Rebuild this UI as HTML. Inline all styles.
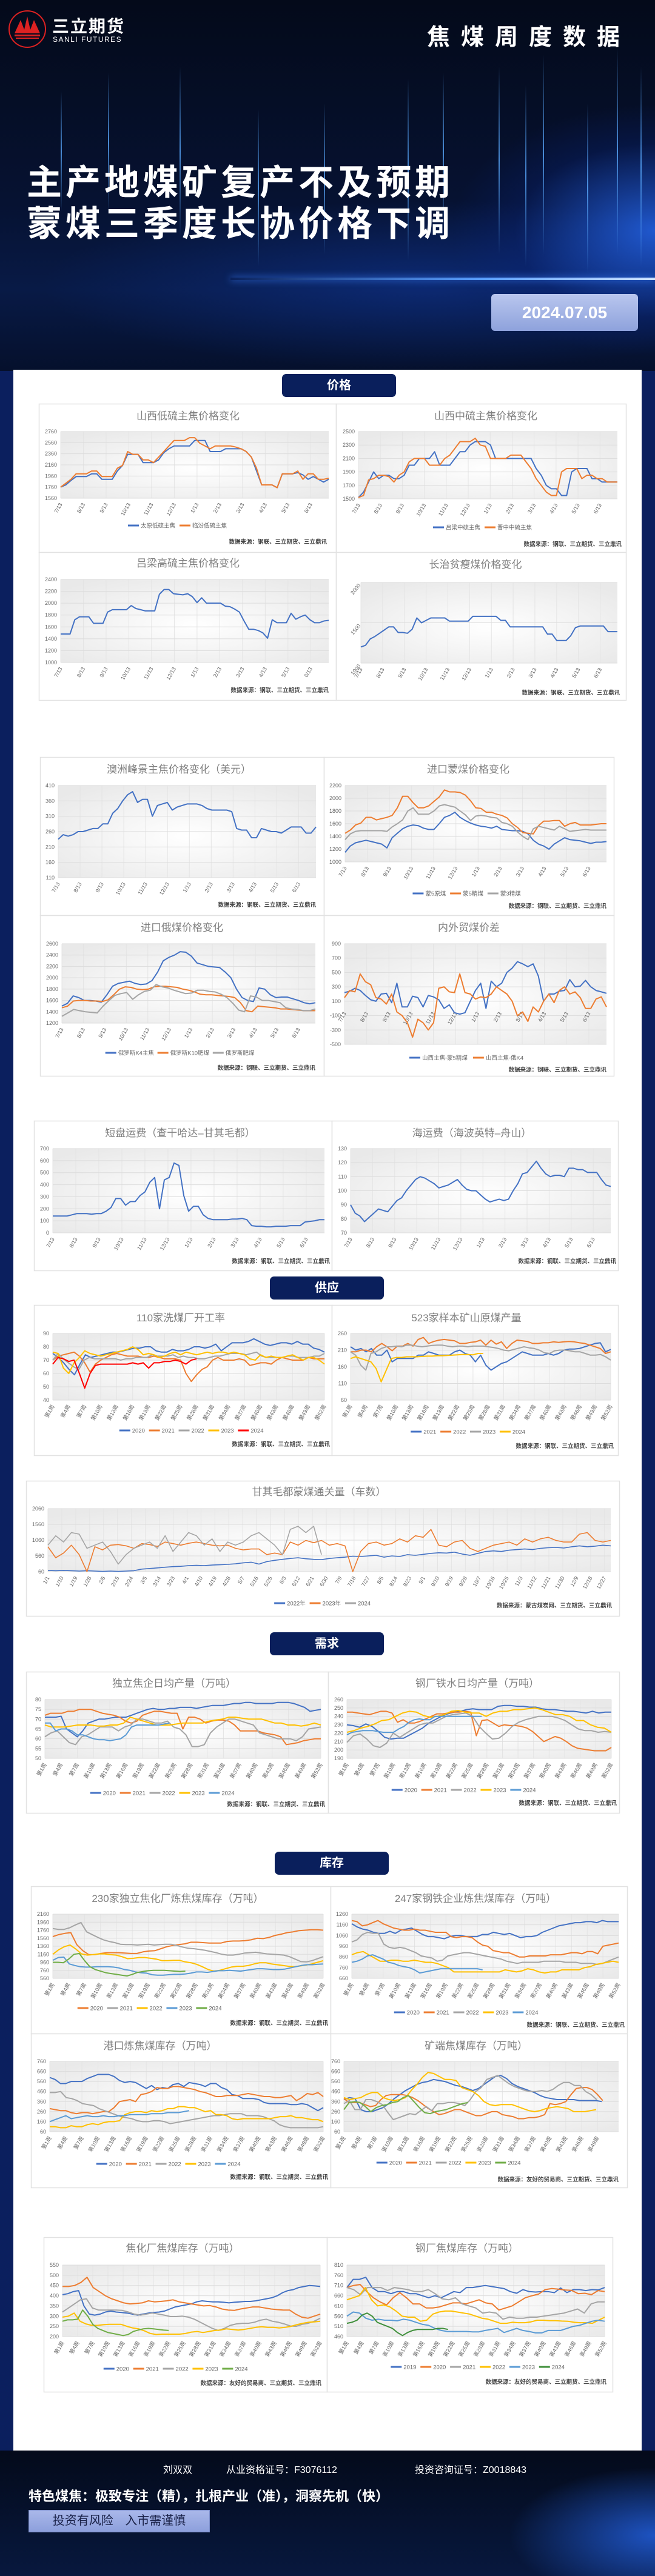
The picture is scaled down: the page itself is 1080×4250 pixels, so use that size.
<!DOCTYPE html>
<html lang="zh">
<head>
<meta charset="utf-8">
<title>焦煤周度数据 2024.07.05</title>
<style>
html,body{margin:0;padding:0}
body{width:1080px;height:4250px;position:relative;overflow:hidden;background:#0b1f5e;font-family:"Liberation Sans","Noto Sans CJK SC",sans-serif}
#hero{position:absolute;left:0;top:0;width:1080px;height:612px;overflow:hidden;
 background:radial-gradient(ellipse 420px 260px at 1080px 380px,rgba(40,110,255,.75),rgba(10,40,140,.25) 55%,rgba(0,0,0,0) 80%),
 radial-gradient(ellipse 900px 200px at 700px 470px,rgba(20,70,200,.35),rgba(0,0,0,0) 70%),
 linear-gradient(180deg,#040a1a 0%,#061232 55%,#081a46 78%,#05102c 100%)}
.beam{position:absolute;width:2px;background:linear-gradient(180deg,rgba(60,140,255,0),rgba(90,170,255,.8),rgba(60,140,255,0))}
#horizon{position:absolute;left:380px;top:458px;width:700px;height:4px;background:linear-gradient(90deg,rgba(60,140,255,0),#5aa0ff 60%,#cfe3ff);box-shadow:0 0 12px #3b82ff}
#logo-circle{position:absolute;left:14px;top:17px;width:58px;height:58px;border:2px solid #d22;border-radius:50%}
#logo-cn{position:absolute;left:86px;top:22px;color:#fff;font-size:28px;font-weight:bold;letter-spacing:2px}
#logo-en{position:absolute;left:87px;top:58px;color:#fff;font-size:12px;letter-spacing:1.5px}
#doc-type{position:absolute;left:704px;top:30px;color:#fff;font-size:38px;font-weight:bold;letter-spacing:18px}
.headline{position:absolute;left:44px;color:#fff;font-size:58px;font-weight:bold;letter-spacing:6px;line-height:60px;white-space:nowrap}
#date-badge{position:absolute;left:810px;top:485px;width:242px;height:61px;border-radius:6px;background:linear-gradient(180deg,#b9c6ee,#8ea2dc);color:#fff;font-size:28px;font-weight:bold;text-align:center;line-height:61px}
#panel{position:absolute;left:22px;top:610px;width:1036px;height:3433px;background:#fff}
.tab{position:absolute;width:188px;height:38px;background:#0a1f5c;border-radius:7px;color:#fff;font-size:20px;font-weight:bold;text-align:center;line-height:38px}
#footer{position:absolute;left:0;top:4043px;width:1080px;height:207px;overflow:hidden;
 background:radial-gradient(ellipse 300px 140px at 1080px 140px,rgba(40,110,255,.7),rgba(0,0,0,0) 80%),linear-gradient(180deg,#040a1a,#061434 70%,#08183e)}
.ftxt{position:absolute;color:#fff;font-size:16px;white-space:nowrap}
#slogan{position:absolute;left:47px;top:58px;color:#fff;font-size:22px;font-weight:bold;white-space:nowrap}
#risk{position:absolute;left:47px;top:98px;width:297px;height:35px;background:linear-gradient(180deg,#aab8ea,#8c9fdc);border:1px solid #7a8cc8;color:#1a2248;font-size:20px;line-height:35px;text-align:center;word-spacing:14px}
#charts{position:absolute;left:0;top:0}
</style>
</head>
<body>
<div id="hero">
  <div class="beam" style="left:100px;top:150px;height:200px"></div>
  <div class="beam" style="left:178px;top:120px;height:230px"></div>
  <div class="beam" style="left:296px;top:110px;height:280px"></div>
  <div class="beam" style="left:425px;top:180px;height:260px"></div>
  <div class="beam" style="left:534px;top:170px;height:250px"></div>
  <div class="beam" style="left:672px;top:130px;height:300px"></div>
  <div class="beam" style="left:730px;top:120px;height:260px"></div>
  <div class="beam" style="left:822px;top:110px;height:310px"></div>
  <div class="beam" style="left:866px;top:140px;height:300px"></div>
  <div class="beam" style="left:895px;top:90px;height:330px"></div>
  <div class="beam" style="left:968px;top:170px;height:280px"></div>
  <div class="beam" style="left:1017px;top:80px;height:340px"></div>
  <div class="beam" style="left:1056px;top:110px;height:330px"></div>
  <div id="horizon"></div>
  <div id="logo-circle">
    <svg width="58" height="58" viewBox="0 0 58 58"><polygon points="8,36 18,14 24,30 29,8 34,30 40,14 50,36" fill="#d22"/><rect x="8" y="38" width="42" height="3" fill="#d22"/><rect x="10" y="43" width="38" height="2" fill="#d22"/></svg>
  </div>
  <div id="logo-cn">三立期货</div>
  <div id="logo-en">SANLI FUTURES</div>
  <div id="doc-type">焦煤周度数据</div>
  <div class="headline" style="top:272px">主产地煤矿复产不及预期</div>
  <div class="headline" style="top:340px">蒙煤三季度长协价格下调</div>
  <div id="date-badge">2024.07.05</div>
</div>
<div id="panel"></div>
<div class="tab" style="left:465px;top:617px">价格</div>
<div class="tab" style="left:445px;top:2106px">供应</div>
<div class="tab" style="left:445px;top:2693px">需求</div>
<div class="tab" style="left:453px;top:3055px">库存</div>
<svg id="charts" width="1080" height="4250" xmlns="http://www.w3.org/2000/svg">
<defs>
<radialGradient id="pbg" cx="50%" cy="55%" r="65%"><stop offset="0" stop-color="#ffffff"/><stop offset="1" stop-color="#e9e9e9"/></radialGradient>
</defs>
</svg>
<div id="footer">
  <div class="ftxt" style="left:269px;top:18px">刘双双</div>
  <div class="ftxt" style="left:373px;top:18px">从业资格证号：F3076112</div>
  <div class="ftxt" style="left:684px;top:18px">投资咨询证号：Z0018843</div>
  <div id="slogan">特色煤焦：极致专注（精），扎根产业（准），洞察先机（快）</div>
  <div id="risk">投资有风险 入市需谨慎</div>
</div>
<script>
// ---------- axis tick labels ----------
const monthTicks = ['7/13','8/13','9/13','10/13','11/13','12/13','1/13','2/13','3/13','4/13','5/13','6/13'];
const weekTicks = ['第1周','第4周','第7周','第10周','第13周','第16周','第19周','第22周','第25周','第28周','第31周','第34周','第37周','第40周','第43周','第46周','第49周','第52周'];
const weekTicks49 = ['第1周','第4周','第7周','第10周','第13周','第16周','第19周','第22周','第25周','第28周','第31周','第34周','第37周','第40周','第43周','第46周','第49周'];
const dayTicks = ['1/1','1/10','1/19','1/28','2/6','2/15','2/24','3/5','3/14','3/23','4/1','4/10','4/19','4/28','5/7','5/16','5/25','6/3','6/12','6/21','6/30','7/9','7/18','7/27','8/5','8/14','8/23','9/1','9/10','9/19','9/28','10/7','10/16','10/25','11/3','11/12','11/21','11/30','12/9','12/18','12/27'];

// ---------- series values ----------
const c1_taiyuan = [1760,1800,1880,1950,1950,1950,2000,2000,1900,1900,1900,2050,2150,2350,2350,2350,2200,2200,2200,2250,2380,2450,2500,2500,2500,2500,2600,2600,2600,2400,2400,2400,2450,2450,2450,2450,2400,2300,2050,1800,1800,1800,1750,2000,2000,2000,2020,1980,1900,1950,1900,1850,1900];
const c1_linfen = [1760,1830,1900,2000,2000,2000,2050,2050,1950,1950,1950,2100,2150,2400,2350,2350,2250,2250,2200,2300,2400,2500,2600,2600,2600,2650,2650,2550,2500,2450,2500,2500,2500,2500,2480,2450,2400,2300,2100,1800,1800,1800,1750,2000,2000,2000,2050,1900,2000,2000,1900,1900,1920];
const c2_lvliang = [1520,1600,1750,1900,1800,1850,1850,1800,1800,1850,2000,2000,2100,2100,2100,2200,2000,2000,2000,2100,2200,2200,2300,2350,2350,2350,2300,2100,2100,2100,2100,2100,2100,2100,2100,1950,1850,1700,1650,1650,1550,1550,1900,1950,1950,1950,1800,1800,1750,1750,1750,1750];
const c2_jinzhong = [1520,1550,1780,1800,1850,1850,1830,1750,1850,1900,2050,2100,2100,2100,2000,2000,2000,2100,2150,2250,2350,2350,2350,2400,2300,2280,2100,2100,2100,2100,2150,2150,2150,2050,1950,1800,1700,1600,1550,1550,1900,1950,1950,1950,1800,1850,1850,1800,1800,1750,1750,1750];
const c3_gaoliu = [1480,1480,1480,1720,1770,1770,1770,1660,1660,1660,1850,1890,1890,1890,1890,1960,1910,1890,1870,1870,1870,2150,2230,2230,2160,2150,2140,2160,2110,2010,2090,2000,2000,2000,2000,1950,1940,1900,1850,1700,1560,1560,1540,1500,1410,1720,1670,1670,1670,1830,1730,1770,1800,1720,1670,1670,1700,1710];
const c4_changzhi = [1200,1220,1300,1330,1370,1410,1450,1450,1380,1380,1370,1420,1560,1500,1530,1560,1560,1560,1560,1520,1520,1520,1520,1520,1580,1580,1580,1580,1580,1580,1530,1530,1450,1450,1450,1450,1450,1450,1450,1450,1360,1360,1280,1280,1280,1340,1440,1460,1460,1460,1460,1460,1460,1390,1390,1390];
const c5_peak = [235,250,245,250,260,260,265,270,270,285,285,320,335,360,380,390,355,365,365,310,345,350,355,330,340,345,350,350,350,345,335,330,330,330,330,325,270,265,265,240,240,270,265,260,260,255,265,275,275,275,255,255,275];
const c6_m5raw = [1150,1250,1300,1320,1340,1320,1300,1280,1220,1380,1450,1520,1560,1580,1570,1530,1510,1510,1600,1700,1730,1780,1700,1650,1610,1580,1560,1550,1530,1560,1510,1500,1490,1490,1480,1440,1340,1280,1250,1200,1280,1330,1380,1350,1340,1330,1310,1290,1310,1310,1320];
const c6_m5clean = [1450,1500,1580,1610,1700,1700,1660,1680,1700,1730,1850,2030,2030,1930,1850,1850,1880,1950,2020,2130,2100,2100,2090,2050,1960,1850,1840,1780,1780,1750,1730,1690,1600,1540,1460,1450,1440,1570,1640,1640,1650,1650,1560,1600,1620,1580,1580,1580,1590,1600,1600];
const c6_m3clean = [1350,1440,1480,1490,1490,1490,1490,1490,1480,1550,1600,1660,1800,1850,1750,1750,1750,1800,1880,1900,1880,1860,1800,1740,1650,1720,1730,1720,1700,1690,1620,1600,1560,1470,1400,1350,1520,1560,1540,1520,1500,1560,1520,1480,1490,1500,1510,1500,1500,1500,1500];
const c7_k4 = [1500,1550,1680,1650,1600,1600,1590,1570,1700,1850,1900,1920,1940,1900,1880,1890,1950,2100,2300,2360,2400,2460,2450,2380,2260,2230,2200,2190,2180,2100,2000,1800,1650,1600,1580,1820,1800,1700,1650,1660,1660,1630,1600,1560,1540,1560];
const c7_k10 = [1470,1500,1590,1600,1600,1590,1590,1580,1610,1700,1800,1840,1830,1800,1790,1800,1840,1850,1850,1840,1830,1800,1780,1750,1710,1700,1700,1690,1680,1670,1650,1560,1420,1400,1500,1490,1480,1470,1450,1450,1440,1430,1420,1420,1420];
const c7_fat = [1320,1380,1440,1420,1400,1390,1380,1500,1600,1690,1720,1740,1620,1700,1760,1780,1880,1840,1820,1780,1750,1720,1730,1780,1780,1760,1750,1710,1650,1550,1430,1400,1680,1660,1600,1600,1580,1560,1470,1450,1440,1420,1420,1450];
const c8_spreadA = [220,240,280,250,180,120,100,200,210,80,350,20,20,170,150,20,180,160,120,0,50,-60,-80,-60,100,250,350,0,380,300,350,500,560,650,620,580,620,450,100,200,200,240,250,400,300,310,390,300,250,230,210];
const c8_spreadB = [150,250,230,480,370,330,150,130,60,200,-50,-100,-200,-400,-150,-200,-300,-200,280,300,230,220,480,220,200,130,160,150,200,300,250,200,100,-100,-50,-180,20,-50,100,200,80,250,300,200,230,150,0,0,130,160,20];
const c9_short = [140,140,140,140,150,160,160,160,155,160,160,180,210,285,285,230,260,260,310,340,420,460,200,440,460,580,560,310,180,220,220,150,120,110,110,110,110,115,115,120,110,60,55,55,50,50,55,55,55,60,60,60,90,95,100,110,110];
const c10_sea = [90,84,82,78,81,84,87,86,85,89,93,95,100,104,108,110,109,107,105,102,103,104,106,108,104,101,100,100,97,94,92,93,94,93,94,100,105,112,113,117,121,116,112,110,111,111,110,116,116,115,115,113,113,113,108,104,103];
const c11_2020 = [75,72,68,63,59,67,74,72,73,74,75,76,76,77,78,79,79,80,80,77,76,76,78,77,77,78,80,80,79,80,82,77,80,83,83,83,84,86,84,82,81,82,83,83,82,84,82,82,79,78,76];
const c11_2021 = [70,73,74,75,76,73,68,61,67,70,72,74,75,74,73,73,73,72,72,73,72,71,71,71,70,60,54,59,63,65,70,72,70,70,70,71,70,66,67,68,68,67,70,72,71,70,70,70,72,71,71,71];
const c11_2022 = [70,75,71,68,65,63,70,72,71,71,71,71,71,70,71,71,72,72,72,74,73,73,73,74,72,73,72,72,71,71,72,73,73,74,75,75,75,74,75,76,73,72,72,72,72,73,73,72,72,72,73,73,75];
const c11_2023 = [76,75,64,60,68,72,77,75,74,73,74,75,76,77,78,80,78,74,75,74,72,73,75,76,74,76,75,74,75,76,75,76,76,75,76,75,74,71,70,74,72,73,72,72,73,74,72,70,72,72,70,67];
const c11_2024 = [67,72,71,69,70,60,49,60,66,67,67,67,67,67,67,68,67,68,64,68,68,69,69,70,69,67,70,71];
const c12_2021 = [220,210,215,205,215,195,195,210,175,185,185,185,185,195,195,205,200,195,195,195,205,210,200,195,175,195,165,150,160,170,175,185,195,205,200,195,195,195,200,195,200,210,213,213,215,220,225,230,232,205,212];
const c12_2022 = [205,205,210,210,205,220,230,220,208,222,222,230,222,242,248,230,236,240,242,240,238,230,230,233,235,240,225,240,228,235,215,230,240,238,236,230,230,232,232,235,233,235,236,235,232,230,225,220,215,200,205];
const c12_2023 = [205,195,165,150,200,205,215,220,220,222,220,225,225,222,220,222,224,225,225,222,220,222,222,220,222,222,222,220,218,215,210,208,212,216,220,217,215,210,202,200,208,210,210,208,205,205,200,195,195,197,190,180];
const c12_2024 = [185,190,185,180,175,155,115,150,185,188,188,190,190,190,191,192,192,193,193,194,195,196,197,197,196,200,200];
const c13_2022 = [100,90,100,90,80,90,80,70,80,70,80,90,140,160,180,200,220,230,250,260,250,270,280,290,310,340,360,300,380,420,450,480,500,470,450,440,480,500,520,550,540,560,580,520,560,540,600,580,610,640,660,650,680,620,580,640,700,720,700,740,760,780,760,800,820,830,810,850,880,850,870,900,880];
const c13_2023 = [850,500,650,900,600,60,850,750,900,920,880,800,950,920,860,1000,950,900,960,1000,950,900,880,900,800,750,780,780,600,650,600,1000,900,1050,980,1050,900,950,880,60,700,950,1000,900,950,1100,1000,1200,1150,1400,900,850,1000,1050,800,700,800,900,950,1000,900,1100,1000,1100,1150,1050,1000,1000,1250,1300,1050,1000,1050];
const c13_2024 = [900,1200,1000,1300,1250,800,900,1000,700,300,600,800,900,1000,800,1200,700,1000,1300,1200,900,1100,700,1000,900,1000,1200,1300,1100,900,600,1400,1500,1300,1500,600];
const c14_2020 = [71,71,71,71.5,65,63,61,64,68,69,70,70,70.5,71,71,71,72,73,74,75,75.5,75,75,75.5,75.5,76,76,76,75.5,76,76.5,77,77,77,77.5,78,78,78.5,78.5,78,78,78,78,78.5,78.5,78.5,78,77,76,74,74.5,75];
const c14_2021 = [72,73,73,73,74,74,75,75,75,74,73,72.5,72,71,69,68,69,72,73,74,74,73.5,73,73,65,71,71,70,68,69,69.5,69.5,69,67,64,64,64,64,63,62.5,62,61,57,57.5,58,59,59.5,60,60];
const c14_2022 = [61,63,64,61,58,57,61,62,64,66,66,66,64,66,67,70,70,69,68,68,69,66,65,62,56,56,57,63,66,68,70,70,69,68,67,63,62,61,60,60,60,59,61,65,65.5,66];
const c14_2023 = [67,66,66,66,66.5,67,67,67,66.5,66.5,67,67,68,71,70,69,68,67,67,67,67.5,68,68,68,68,69,69.5,70,71,71,70.5,70,70,70,69,68,68,67,67,66.5,67,68,67];
const c14_2024 = [68,68,64,65,65,64,62,62,61,60,59.5,59.5,59,59.5,60,62,66,67,67,67,67,67,67.5,68];
const c15_2020 = [230,229,227,231,228,222,215,213,214,214,218,222,226,232,236,240,243,245,246,248,249,248,248,248,252,253,253,252,252,251,251,249,248,248,247,246,246,245,244,246,244,245,245];
const c15_2021 = [245,245,244,243,242,244,246,246,244,233,236,232,232,234,237,240,243,243,244,245,245,246,245,217,235,236,232,228,230,229,229,228,226,222,216,210,213,216,214,210,205,202,201,200,199,199,199,203];
const c15_2022 = [209,217,219,213,205,203,208,220,215,220,225,230,232,232,236,240,242,243,244,240,228,220,213,214,220,228,233,236,238,240,240,240,238,235,230,225,223,223,221,222,221];
const c15_2023 = [221,223,226,228,231,235,236,240,244,246,245,241,239,240,242,246,247,245,244,244,240,244,246,246,248,248,249,250,248,245,242,242,240,235,235,230,227,226,221];
const c15_2024 = [218,221,222,223,223,223,222,221,221,221,225,228,233,236,237,236,236,240,240,240,240,240,240,240,240,240,240];
const c16_2020 = [1600,1650,1680,1700,1400,1250,1150,1150,1180,1200,1200,1200,1190,1180,1180,1220,1240,1250,1300,1350,1380,1400,1420,1460,1460,1450,1440,1440,1440,1480,1490,1490,1500,1520,1560,1550,1580,1630,1660,1700,1720,1750,1760,1770,1770,1760];
const c16_2021 = [1800,1780,1780,1820,1890,1950,1720,1650,1580,1520,1480,1450,1410,1400,1400,1390,1400,1410,1390,1400,1410,1410,1380,1340,1310,1300,1280,1260,1230,1200,1160,1140,1140,1160,1190,1200,1210,1190,1170,1160,1150,1140,1100,1040,980,970,1000,1050,1100];
const c16_2022 = [1160,1270,1350,1390,1290,1170,1140,1150,1170,1170,1150,1140,1100,1050,1060,1080,1080,1060,1040,1000,1000,1010,1010,970,950,910,850,780,740,760,800,840,860,860,880,920,950,950,920,900,880,860,850,870,890,920,960,1000];
const c16_2023 = [1010,1080,1090,920,880,850,840,840,850,850,850,840,820,780,760,720,700,690,650,640,640,650,660,660,670,690,720,720,710,730,750,750,760,750,740,760,780,800,800,790,780,780,790,820,850,880,900,900,910,920];
const c16_2024 = [960,960,950,1040,1160,1180,1000,850,780,740,700,680,660,640,620,660,710,730,750,760,760,760,750,740,730,740];
const c17_2020 = [1170,1140,1120,1110,1090,1080,1080,1100,1080,1110,1120,1130,1100,1070,1050,1050,1040,1030,1050,1060,1060,1050,1050,1050,1070,1070,1090,1080,1070,1080,1060,1040,1050,1050,1060,1090,1110,1130,1150,1160,1170,1180,1180,1190,1190,1180,1200,1190,1190,1190];
const c17_2021 = [1200,1190,1150,1160,1180,1200,1170,1150,1130,1120,1110,1110,1120,1110,1110,1100,1090,1090,1090,1050,1040,1050,1050,1040,1000,970,960,920,910,900,900,880,860,860,870,870,870,870,880,880,880,890,900,900,890,910,910,890,960,970,980,990];
const c17_2022 = [1000,1020,1070,1090,1080,1080,980,950,940,950,940,920,900,870,860,850,820,830,870,880,890,900,900,890,880,870,860,850,840,820,810,800,810,810,810,810,820,820,820,820,810,810,810,800,800,800,790,800,820,840,860];
const c17_2023 = [880,900,910,880,850,820,820,830,830,820,820,830,820,810,810,800,780,760,720,720,720,720,720,720,720,720,720,740,730,720,730,750,740,720,710,720,720,740,740,740,740,760,770,790,800,810,820,810];
const c17_2024 = [810,820,840,870,880,860,840,810,800,780,770,760,740,710,720,730,740,750,750,750,750,750,750,750,750,740];
const c18_2020 = [600,580,540,540,560,560,560,590,610,630,630,630,610,570,550,560,550,520,490,520,480,500,490,530,540,510,550,540,530,510,540,540,500,480,430,420,390,390,390,380,350,340,340,340,340,330,330,340,330,300,270,300];
const c18_2021 = [290,280,270,270,250,240,250,250,240,250,260,260,300,360,370,380,360,430,440,460,500,490,490,510,510,500,490,480,460,450,430,410,410,420,420,420,430,440,430,420,410,410,400,400,410,420,370,400,440,430,450,410];
const c18_2022 = [450,450,460,400,390,370,340,330,320,290,270,250,230,210,200,190,170,160,160,170,170,160,140,150,160,170,180,190,200,210,220,220,230,240,240,240,220,220,220,210,190,170,130,110,100,100,100,100,100,100,110];
const c18_2023 = [110,110,100,100,120,110,110,130,140,130,150,160,160,170,230,250,260,260,250,270,260,270,290,290,310,310,300,300,280,260,270,230,230,220,190,180,190,190,190,190,190,190,200,210,210,220,200,200,190,180,180,160];
const c18_2024 = [160,180,200,220,190,200,210,220,210,210,220,210,210,220,220,230,230,230,230,240,240,240,250,250,250,260,270];
const c19_2020 = [380,400,390,280,260,260,280,300,340,390,430,470,500,530,550,560,580,570,560,540,520,510,490,470,490,530,570,610,620,590,540,510,490,470,450,420,400,390,380,380,380,380,370,370,370,370,360];
const c19_2021 = [390,350,350,350,330,310,320,380,420,430,430,430,420,400,370,330,290,260,230,240,260,280,280,260,240,220,220,240,260,260,230,220,210,190,190,200,200,210,230,340,330,340,360,430,490,500,500,480,430,370];
const c19_2022 = [340,370,280,280,380,380,360,330,250,180,200,220,240,230,270,310,270,340,340,350,350,340,320,380,460,500,580,600,620,580,540,510,490,470,460,460,470,460,480,520,550,550,520,520,460,430,380];
const c19_2023 = [400,380,390,400,430,450,450,400,380,370,380,400,470,530,600,650,640,610,580,580,570,500,480,460,420,360,330,320,330,330,330,310,290,270,260,270,290,300,310,300,290,260,260,260,270,280];
const c19_2024 = [280,350,360,350,310,260,300,320,330,350,360,400,420,360,300,250,240,260,270,280,300,320,340,350];
const c20_2020 = [405,410,420,425,350,310,305,310,320,325,320,318,315,310,305,310,315,318,320,325,335,345,350,355,360,370,375,372,370,370,368,365,368,370,372,372,375,380,385,390,400,415,425,430,440,445,450,448,445];
const c20_2021 = [445,445,450,465,490,440,420,400,385,375,365,360,362,365,375,370,372,375,380,370,365,360,355,350,352,345,335,330,328,335,340,345,345,340,335,332,330,330,310,295,290,300,310];
const c20_2022 = [320,340,360,380,385,340,330,330,330,330,328,320,310,305,310,315,310,305,298,298,300,295,285,270,255,240,230,240,255,262,265,265,270,280,285,275,270,262,252,250,260,265,275,290];
const c20_2023 = [295,300,315,275,262,255,255,258,260,260,260,250,242,238,228,215,210,212,212,212,212,215,222,225,220,225,230,232,238,235,232,235,240,245,248,245,245,242,245,250,258,265,270,272,275];
const c20_2024 = [275,282,282,285,330,300,260,240,230,220,215,210,205,210,225,232,238,240,238,235,232,230];
const c21_2019 = [700,740,740,750,700,680,680,670,680,680,670,670,660,650,660,650,665,680,675,700,700,705,710,705,700,695,680,672,690,680,678,680,680,675,698,675,690,690,685,690,688,700];
const c21_2020 = [700,710,715,680,650,630,615,650,675,650,620,620,600,600,605,615,625,625,620,630,640,625,620,590,600,610,630,650,660,668,690,695,692,688,686,670,672,665,685,680];
const c21_2021 = [700,690,665,700,700,700,685,700,695,690,680,680,690,670,645,640,650,620,610,600,575,580,575,545,555,550,550,555,555,560,565,570,575,585,595,575,620,630,630];
const c21_2022 = [640,650,660,700,640,610,615,605,585,560,555,555,535,540,570,580,585,585,580,575,570,560,550,545,535,525,525,530,528,528,532,540,540,538,538,536,535,530,528,528,525,540,555];
const c21_2023 = [560,580,575,550,540,545,540,540,537,545,540,530,520,515,500,490,485,485,485,485,483,483,490,495,500,480,490,500,490,485,478,478,490,490,490,500,510,515,525,535,540,535];
const c21_2024 = [525,530,540,565,575,560,530,520,510,500,480,465,480,490,495,495,495,495,500,500,495];

const BLUE='#4472C4',ORANGE='#ED7D31',GRAY='#A5A5A5',YELLOW='#FFC000',LBLUE='#5B9BD5',GREEN='#70AD47',RED='#FF0000';
const SRC='数据来源：钢联、三立期货、三立鼎讯';
const SRC2='数据来源：友好的贸易商、三立期货、三立鼎讯';

const svg=document.getElementById('charts');
const NS='http://www.w3.org/2000/svg';
function mk(tag,attrs,parent){const e=document.createElementNS(NS,tag);for(const k in attrs)e.setAttribute(k,attrs[k]);(parent||svg).appendChild(e);return e;}
function txtW(s,fs){let w=0;for(const ch of s){w+=/[\x00-\x7f]/.test(ch)?fs*0.55:fs;}return w;}

const cells=[[64,666,490,245],[554,666,478,245],[64,911,490,244],[554,911,478,244],
[66,1249,468,261],[534,1249,478,261],[66,1510,468,265],[534,1510,478,265],
[56,1849,491,247],[547,1849,472,247],[56,2153,491,248],[547,2153,472,248],
[43,2443,978,223],[43,2758,498,233],[541,2758,480,233],
[51,3112,494,243],[545,3112,489,243],[51,3355,494,254],[545,3355,489,254],
[72,3691,467,255],[539,3691,471,255]];
cells.forEach(c=>{
  const r=mk('rect',{x:c[0]+.5,y:c[1]+.5,width:c[2],height:c[3],fill:'#fff',stroke:'#e2e2e2','stroke-width':1.5});
  
  
});

function drawChart(cfg){
  const g=mk('g',{});
  
  
  const {px,py,pw,ph,ymin,ymax,ystep}=cfg;
  const ys=v=>py+ph-(v-ymin)/(ymax-ymin)*ph;
  const bg=mk('rect',{x:px,y:py,width:pw,height:ph,fill:'url(#pbg)'},g);
  
  
  // title
  const t=mk('text',{x:cfg.tx,y:cfg.ty+6,'text-anchor':'middle','font-size':cfg.tfs||17,fill:'#808080'},g);
  t.textContent=cfg.title;
  
  
  // vertical grid
  const xf=cfg.xfrac;
  cfg.xlabels.forEach((lab,i)=>{
    const x=px+xf(i)*pw;
    mk('line',{x1:x,y1:py,x2:x,y2:py+ph,stroke:'#e4e4e4','stroke-width':1},g);
  });
  // horizontal grid + y labels
  for(let v=ymin;v<=ymax+1e-9;v+=ystep){
    const y=ys(v);
    mk('line',{x1:px,y1:y,x2:px+pw,y2:y,stroke:v===0&&ymin<0?'#bbb':'#dcdcdc','stroke-width':1},g);
    const yl=mk('text',{x:px-6,y:y+3,'text-anchor':'end','font-size':9,fill:'#666'},g);
    if(cfg.yrot){yl.setAttribute('transform','rotate(-50 '+(px-6)+' '+y+')');yl.setAttribute('y',y+8);}
    yl.textContent=String(v);
    
    
  }
  // x labels
  const xly=cfg.xatZero?ys(0)+8:py+ph+10;
  cfg.xlabels.forEach((lab,i)=>{
    const x=px+xf(i)*pw+3;
    const xl=mk('text',{x:x,y:xly,'text-anchor':'end','font-size':cfg.xfs||9,fill:'#666',transform:'rotate(-60 '+x+' '+xly+')'},g);
    xl.textContent=lab;
    
    
  });
  // series
  cfg.series.forEach(s=>{
    const span=s.span||s.vals.length;
    const pts=s.vals.map((v,i)=>(px+i/(span-1)*pw).toFixed(1)+','+ys(v).toFixed(1)).join(' ');
    const pl=mk('polyline',{points:pts,fill:'none',stroke:s.color,'stroke-width':cfg.sw||2,'stroke-linejoin':'round'},g);
    
    
  });
  // legend
  if(cfg.legend){
    const fs=9.5;let total=0;
    const items=cfg.series.map(s=>{const w=22+txtW(s.name,fs)+6;total+=w;return w;});
    let x=cfg.legend[0]-total/2;const y=cfg.legend[1];
    cfg.series.forEach((s,i)=>{
      const lg=mk('g',{},g);
      
      
      mk('line',{x1:x,y1:y,x2:x+18,y2:y,stroke:s.color,'stroke-width':3},lg);
      const lt=mk('text',{x:x+21,y:y+3.5,'font-size':fs,fill:'#666'},lg);
      lt.textContent=s.name;
      x+=items[i];
    });
  }
  // source
  const st=mk('text',{x:cfg.src[0],y:cfg.src[1]+3,'text-anchor':'end','font-size':9.5,'font-weight':'bold',fill:'#444'},g);
  st.textContent=cfg.srcText||SRC;
  
  
}
const mFrac=i=>i*0.0848;
const wFrac=i=>(i*3)/51;
const wFrac49=i=>(i*3)/49;
const dFrac=i=>(i*9)/364;

drawChart({name:'chart-shanxi-low-sulfur',title:'山西低硫主焦价格变化',tx:310,ty:686,px:100,py:712,pw:442,ph:110,ymin:1560,ymax:2760,ystep:200,xlabels:monthTicks,xfrac:mFrac,
 series:[{name:'太原低硫主焦',color:BLUE,vals:c1_taiyuan},{name:'临汾低硫主焦',color:ORANGE,vals:c1_linfen}],legend:[296,867],src:[539,894]});
drawChart({name:'chart-shanxi-mid-sulfur',title:'山西中硫主焦价格变化',tx:801,ty:686,px:591,py:712,pw:427,ph:111,ymin:1500,ymax:2500,ystep:200,xlabels:monthTicks,xfrac:mFrac,
 series:[{name:'吕梁中硫主焦',color:BLUE,vals:c2_lvliang},{name:'晋中中硫主焦',color:ORANGE,vals:c2_jinzhong}],legend:[799,870],src:[1025,898]});
drawChart({name:'chart-lvliang-high-sulfur',title:'吕梁高硫主焦价格变化',tx:310,ty:929,px:100,py:956,pw:442,ph:137,ymin:1000,ymax:2400,ystep:200,xlabels:monthTicks,xfrac:mFrac,
 series:[{name:'吕梁高硫主焦',color:BLUE,vals:c3_gaoliu}],src:[542,1139]});
drawChart({name:'chart-changzhi-lean-coal',title:'长治贫瘦煤价格变化',tx:784,ty:931,px:595,py:961,pw:423,ph:133,ymin:1000,ymax:2000,ystep:500,yrot:true,xlabels:monthTicks,xfrac:mFrac,
 series:[{name:'长治贫瘦煤',color:BLUE,vals:c4_changzhi}],src:[1022,1143]});
drawChart({name:'chart-australia-peak-downs',title:'澳洲峰景主焦价格变化（美元）',tx:295,ty:1269,px:96,py:1296,pw:425,ph:152,ymin:110,ymax:410,ystep:50,xlabels:monthTicks,xfrac:mFrac,
 series:[{name:'澳洲峰景',color:BLUE,vals:c5_peak}],src:[521,1493]});
drawChart({name:'chart-mongolia-import',title:'进口蒙煤价格变化',tx:772,ty:1269,px:569,py:1296,pw:431,ph:126,ymin:1000,ymax:2200,ystep:200,xlabels:monthTicks,xfrac:mFrac,
 series:[{name:'蒙5原煤',color:BLUE,vals:c6_m5raw},{name:'蒙5精煤',color:ORANGE,vals:c6_m5clean},{name:'蒙3精煤',color:GRAY,vals:c6_m3clean}],legend:[773,1474],src:[1000,1495]});
drawChart({name:'chart-russia-import',title:'进口俄煤价格变化',tx:300,ty:1530,px:102,py:1557,pw:418,ph:131,ymin:1200,ymax:2600,ystep:200,xlabels:monthTicks,xfrac:mFrac,
 series:[{name:'俄罗斯K4主焦',color:BLUE,vals:c7_k4},{name:'俄罗斯K10肥煤',color:ORANGE,vals:c7_k10},{name:'俄罗斯肥煤',color:GRAY,vals:c7_fat}],legend:[300,1737],src:[520,1762]});
drawChart({name:'chart-domestic-import-spread',title:'内外贸煤价差',tx:773,ty:1530,px:568,py:1557,pw:432,ph:166,ymin:-500,ymax:900,ystep:200,xatZero:true,xlabels:monthTicks,xfrac:mFrac,
 series:[{name:'山西主焦-蒙5精煤',color:BLUE,vals:c8_spreadA},{name:'山西主焦-俄K4',color:ORANGE,vals:c8_spreadB}],legend:[773,1745],src:[1000,1765]});
drawChart({name:'chart-short-haul-freight',title:'短盘运费（查干哈达–甘其毛都）',tx:297,ty:1869,px:87,py:1895,pw:448,ph:139,ymin:0,ymax:700,ystep:100,xlabels:monthTicks,xfrac:mFrac,
 series:[{name:'短盘运费',color:BLUE,vals:c9_short}],src:[544,2081]});
drawChart({name:'chart-ocean-freight',title:'海运费（海波英特–舟山）',tx:778,ty:1869,px:578,py:1895,pw:429,ph:139,ymin:70,ymax:130,ystep:10,xlabels:monthTicks,xfrac:mFrac,
 series:[{name:'海运费',color:BLUE,vals:c10_sea}],src:[1016,2081]});
drawChart({name:'chart-washery-utilization',title:'110家洗煤厂开工率',tx:298,ty:2174,px:87,py:2200,pw:448,ph:110,ymin:40,ymax:90,ystep:10,xlabels:weekTicks,xfrac:wFrac,
 series:[{name:'2020',color:BLUE,vals:c11_2020},{name:'2021',color:ORANGE,vals:c11_2021},{name:'2022',color:GRAY,vals:c11_2022},{name:'2023',color:YELLOW,vals:c11_2023},{name:'2024',color:RED,vals:c11_2024,span:52}],legend:[319,2360],src:[544,2383]});
drawChart({name:'chart-mine-raw-coal-output',title:'523家样本矿山原煤产量',tx:769,ty:2174,px:578,py:2200,pw:429,ph:110,ymin:60,ymax:260,ystep:50,xlabels:weekTicks,xfrac:wFrac,
 series:[{name:'2021',color:BLUE,vals:c12_2021},{name:'2022',color:ORANGE,vals:c12_2022},{name:'2023',color:GRAY,vals:c12_2023},{name:'2024',color:YELLOW,vals:c12_2024,span:52}],legend:[775,2362],src:[1012,2386]});
drawChart({name:'chart-ganqimaodu-clearance',title:'甘其毛都蒙煤通关量（车数）',tx:526,ty:2461,px:79,py:2489,pw:928,ph:104,ymin:60,ymax:2060,ystep:500,xlabels:dayTicks,xfrac:dFrac,sw:1.6,
 series:[{name:'2022年',color:BLUE,vals:c13_2022},{name:'2023年',color:ORANGE,vals:c13_2023},{name:'2024',color:GRAY,vals:c13_2024,span:73}],legend:[535,2645],src:[1009,2649],srcText:'数据来源：蒙古煤炭网、三立期货、三立鼎讯'});
drawChart({name:'chart-coking-daily-output',title:'独立焦企日均产量（万吨）',tx:287,ty:2777,px:74,py:2804,pw:455,ph:97,ymin:50,ymax:80,ystep:5,xlabels:weekTicks,xfrac:wFrac,
 series:[{name:'2020',color:BLUE,vals:c14_2020},{name:'2021',color:ORANGE,vals:c14_2021},{name:'2022',color:GRAY,vals:c14_2022},{name:'2023',color:YELLOW,vals:c14_2023},{name:'2024',color:LBLUE,vals:c14_2024,span:52}],legend:[271,2958],src:[536,2977]});
drawChart({name:'chart-hot-metal-output',title:'钢厂铁水日均产量（万吨）',tx:787,ty:2777,px:572,py:2804,pw:436,ph:97,ymin:190,ymax:260,ystep:10,xlabels:weekTicks,xfrac:wFrac,
 series:[{name:'2020',color:BLUE,vals:c15_2020},{name:'2021',color:ORANGE,vals:c15_2021},{name:'2022',color:GRAY,vals:c15_2022},{name:'2023',color:YELLOW,vals:c15_2023},{name:'2024',color:LBLUE,vals:c15_2024,span:52}],legend:[768,2953],src:[1017,2975]});
drawChart({name:'chart-coking-plant-coal-stock',title:'230家独立焦化厂炼焦煤库存（万吨）',tx:293,ty:3132,px:87,py:3158,pw:446,ph:106,ymin:560,ymax:2160,ystep:200,xlabels:weekTicks,xfrac:wFrac,
 series:[{name:'2020',color:ORANGE,vals:c16_2020},{name:'2021',color:GRAY,vals:c16_2021},{name:'2022',color:YELLOW,vals:c16_2022},{name:'2023',color:LBLUE,vals:c16_2023},{name:'2024',color:GREEN,vals:c16_2024,span:52}],legend:[250,3313],src:[541,3338]});
drawChart({name:'chart-steel-mill-coal-stock',title:'247家钢铁企业炼焦煤库存（万吨）',tx:784,ty:3132,px:580,py:3158,pw:440,ph:106,ymin:660,ymax:1260,ystep:100,xlabels:weekTicks,xfrac:wFrac,
 series:[{name:'2020',color:BLUE,vals:c17_2020},{name:'2021',color:ORANGE,vals:c17_2021},{name:'2022',color:GRAY,vals:c17_2022},{name:'2023',color:YELLOW,vals:c17_2023},{name:'2024',color:LBLUE,vals:c17_2024,span:52}],legend:[772,3320],src:[1030,3341]});
drawChart({name:'chart-port-coal-stock',title:'港口炼焦煤库存（万吨）',tx:264,ty:3375,px:82,py:3401,pw:451,ph:116,ymin:60,ymax:760,ystep:100,xlabels:weekTicks,xfrac:wFrac,
 series:[{name:'2020',color:BLUE,vals:c18_2020},{name:'2021',color:ORANGE,vals:c18_2021},{name:'2022',color:GRAY,vals:c18_2022},{name:'2023',color:YELLOW,vals:c18_2023},{name:'2024',color:LBLUE,vals:c18_2024,span:52}],legend:[281,3570],src:[541,3592]});
drawChart({name:'chart-mine-coking-coal-stock',title:'矿端焦煤库存（万吨）',tx:785,ty:3375,px:567,py:3401,pw:453,ph:116,ymin:60,ymax:760,ystep:100,xlabels:weekTicks49,xfrac:i=>(i*3)/52,
 series:[{name:'2020',color:BLUE,vals:c19_2020,span:50},{name:'2021',color:ORANGE,vals:c19_2021,span:53},{name:'2022',color:GRAY,vals:c19_2022,span:51},{name:'2023',color:YELLOW,vals:c19_2023,span:50},{name:'2024',color:GREEN,vals:c19_2024,span:52}],legend:[743,3568],src:[1020,3596],srcText:SRC2});
drawChart({name:'chart-coking-plant-coke-coal',title:'焦化厂焦煤库存（万吨）',tx:301,ty:3709,px:103,py:3737,pw:425,ph:118,ymin:200,ymax:550,ystep:50,xlabels:weekTicks,xfrac:wFrac,
 series:[{name:'2020',color:BLUE,vals:c20_2020},{name:'2021',color:ORANGE,vals:c20_2021},{name:'2022',color:GRAY,vals:c20_2022},{name:'2023',color:YELLOW,vals:c20_2023},{name:'2024',color:GREEN,vals:c20_2024,span:52}],legend:[293,3908],src:[530,3932],srcText:SRC2});
drawChart({name:'chart-steel-mill-coke-coal',title:'钢厂焦煤库存（万吨）',tx:770,ty:3709,px:572,py:3737,pw:425,ph:118,ymin:460,ymax:810,ystep:50,xlabels:weekTicks,xfrac:wFrac,
 series:[{name:'2019',color:BLUE,vals:c21_2019},{name:'2020',color:ORANGE,vals:c21_2020},{name:'2021',color:GRAY,vals:c21_2021},{name:'2022',color:YELLOW,vals:c21_2022},{name:'2023',color:LBLUE,vals:c21_2023},{name:'2024',color:'#3f8f3a',vals:c21_2024,span:52}],legend:[791,3905],src:[1000,3930],srcText:SRC2});
</script>
</body>
</html>
